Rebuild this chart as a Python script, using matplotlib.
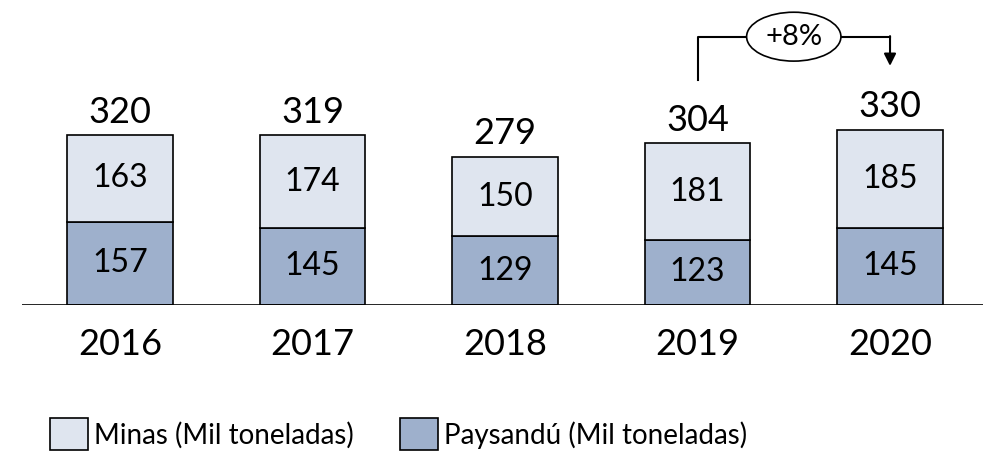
import matplotlib
matplotlib.use("Agg")
import matplotlib.pyplot as plt
from matplotlib.patches import Ellipse, Rectangle

plt.rcParams['font.family'] = ['Lato', 'DejaVu Sans']

years = ["2016", "2017", "2018", "2019", "2020"]
paysandu = [157, 145, 129, 123, 145]
minas = [163, 174, 150, 181, 185]
totals = [320, 319, 279, 304, 330]
growth_label = "+8%"

c_minas = "#dfe5ef"
c_pays = "#9eb0cc"

fig = plt.figure(figsize=(9.83, 4.53), dpi=100)
ax = fig.add_axes([0.0224, 0.3267, 0.9776, 0.6733])
x = list(range(len(years)))
w = 0.55
ax.bar(x, paysandu, w, color=c_pays, edgecolor="black", linewidth=1.2, zorder=2)
ax.bar(x, minas, w, bottom=paysandu, color=c_minas, edgecolor="black", linewidth=1.2, zorder=2)

for i in x:
    ax.text(i, paysandu[i] / 2, str(paysandu[i]), ha="center", va="center", fontsize=23)
    ax.text(i, paysandu[i] + minas[i] / 2, str(minas[i]), ha="center", va="center", fontsize=23)
    ax.text(i, totals[i] + 12, str(totals[i]), ha="center", va="bottom", fontsize=26)
    ax.text(i, -44, years[i], ha="center", va="top", fontsize=26, clip_on=False)

ax.set_xlim(-0.509, 4.483)
ax.set_ylim(0, 574)
ax.axhline(0, color="black", linewidth=1.2, zorder=3)
for s in ax.spines.values():
    s.set_visible(False)
ax.set_xticks([])
ax.set_yticks([])

# growth bracket
y_top = 505
ax.plot([3, 3, 4], [424, y_top, y_top], color="black", linewidth=1.5, clip_on=False)
ax.annotate("", xy=(4, 450), xytext=(4, y_top + 1),
            arrowprops=dict(arrowstyle="-|>", color="black", lw=1.5, mutation_scale=18,
                            shrinkA=0, shrinkB=0))
ell = Ellipse((3.5, y_top), 0.49, 92, facecolor="white", edgecolor="black", linewidth=1.2,
              zorder=5, clip_on=False)
ax.add_patch(ell)
ax.text(3.5, y_top, growth_label, ha="center", va="center", fontsize=21, zorder=6)

# legend
items = [("Minas (Mil toneladas)", c_minas, 50), ("Paysandú (Mil toneladas)", c_pays, 400)]
for label, col, px in items:
    fig.patches.append(Rectangle((px / 983, (453 - 450) / 453), 38 / 983, 32 / 453,
                                 transform=fig.transFigure, facecolor=col, edgecolor="black",
                                 linewidth=1.2))
    fig.text((px + 44) / 983, (453 - 435) / 453, label, ha="left", va="center", fontsize=20)

fig.savefig("out.png", dpi=100)
